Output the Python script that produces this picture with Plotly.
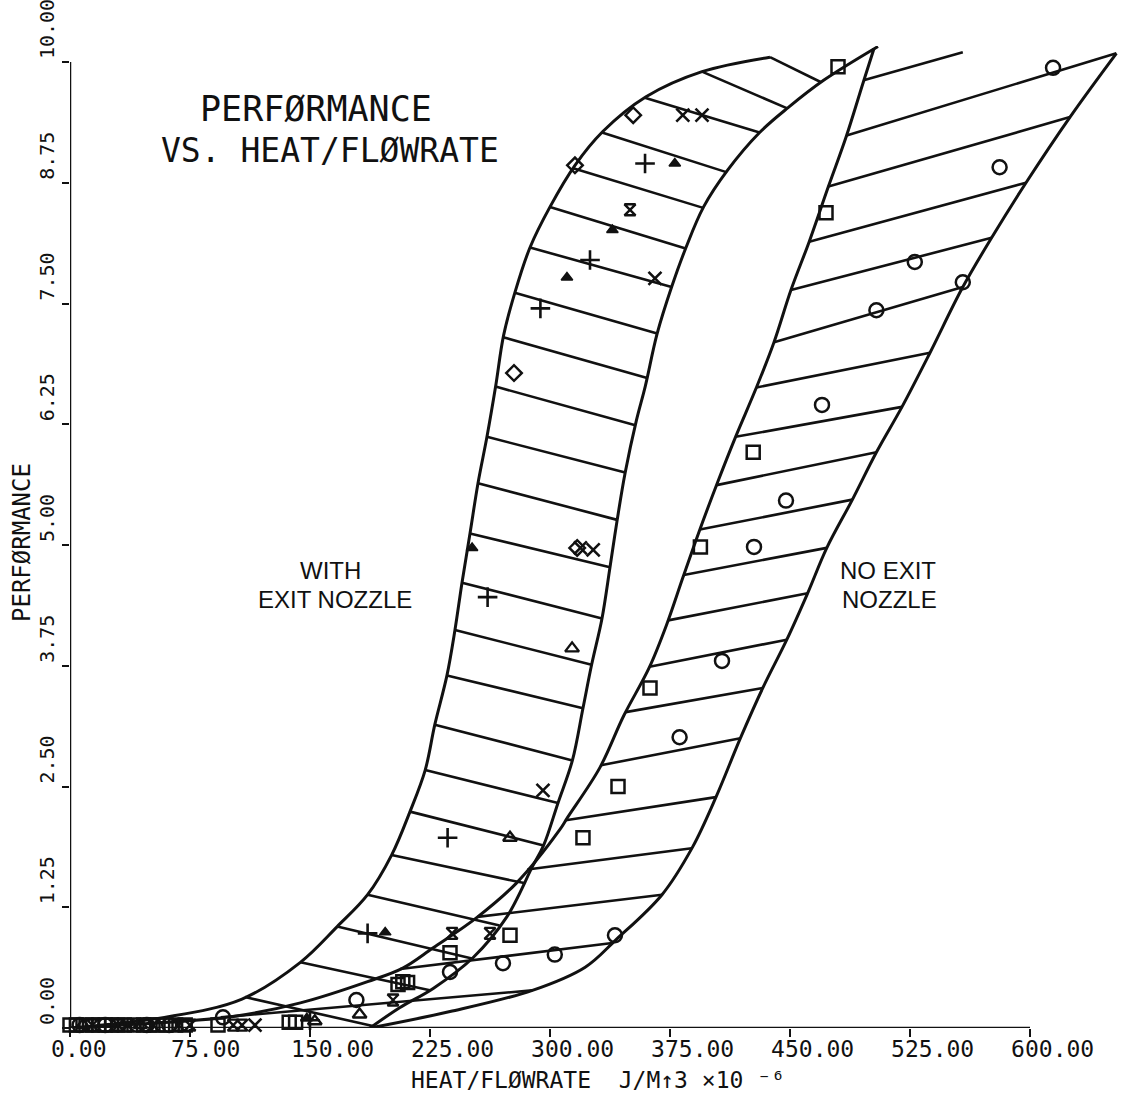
import numpy as np
import plotly.graph_objects as go

# ---------------- data ----------------
# Band "WITH EXIT NOZZLE": left and right boundary curves
L1_x = [0, 59, 107.5, 144, 167, 186, 201, 212.5, 222, 228, 235.6, 240.6, 245, 250, 255, 260.6,
        266, 271, 278, 287.5, 300, 315.6, 333, 360, 395, 437.5]
L1_y = [0, 0.11, 0.30, 0.68, 1.05, 1.38, 1.79, 2.24, 2.67, 3.14, 3.65, 4.12, 4.61, 5.12, 5.64, 6.12,
        6.64, 7.17, 7.61, 8.08, 8.50, 8.93, 9.28, 9.64, 9.90, 10.05]
R1_x = [187.5, 206, 227, 252, 273, 289, 296, 305, 314, 320.6, 326, 332.5, 337.5, 342, 347, 354, 359.5,
        367, 376, 385, 396, 411, 431, 449, 471, 505]
R1_y = [0.0, 0.21, 0.41, 0.73, 1.15, 1.67, 1.89, 2.33, 2.77, 3.31, 3.76, 4.24, 4.77, 5.26, 5.75, 6.29, 6.64,
        7.19, 7.67, 8.08, 8.50, 8.88, 9.27, 9.53, 9.81, 10.16]
# Band "NO EXIT NOZZLE": left and right boundary curves
L2_x = [0, 32, 102, 144, 186, 208, 227, 254, 279, 306, 311, 331, 346, 362, 373, 383, 393, 405,
        416, 429, 440, 450.6, 462, 474, 485, 495.6, 502.5]
L2_y = [0, 0.03, 0.12, 0.26, 0.48, 0.62, 0.83, 1.14, 1.50, 2.05, 2.18, 2.69, 3.23, 3.73, 4.18, 4.66, 5.13, 5.66,
        6.12, 6.63, 7.10, 7.64, 8.14, 8.71, 9.22, 9.78, 10.14]
R2_x = [187.5, 237.5, 289, 322, 341, 370, 389, 404, 419, 433, 448, 461, 473, 489, 504, 520, 537.5,
        558, 576, 597.5, 625, 654]
R2_y = [0.0, 0.17, 0.39, 0.63, 0.91, 1.38, 1.87, 2.40, 3.00, 3.52, 4.02, 4.50, 4.97, 5.47, 5.96, 6.43, 6.99,
        7.67, 8.18, 8.75, 9.43, 10.09]

# Hatch lines: level where each line meets the left and the right boundary
hatch1_left_y = [10.05, 9.90, 9.63, 9.27, 8.90, 8.50, 8.08, 7.61, 7.15, 6.64, 6.12, 5.64, 5.12, 4.61,
                 4.12, 3.65, 3.14, 2.67, 2.24, 1.79, 1.38, 1.05, 0.68, 0.32]
hatch1_right_y = [9.79, 9.52, 9.27, 8.86, 8.49, 8.07, 7.67, 7.19, 6.73, 6.24, 5.75, 5.26, 4.77, 4.24,
                  3.76, 3.31, 2.77, 2.33, 1.89, 1.50, 1.06, 0.72, 0.39, 0.02]
hatch2_left_y = [9.24, 8.71, 8.14, 7.64, 7.10, 6.63, 6.12, 5.62, 5.16, 4.69, 4.22, 3.74, 3.27, 2.72,
                 2.15, 1.64, 1.15, 0.61, 0.11]
hatch2_right_y = [10.09, 9.43, 8.75, 8.18, 7.67, 6.99, 6.43, 5.96, 5.47, 4.97, 4.50, 4.02, 3.52, 3.00,
                  2.39, 1.86, 1.38, 0.88, 0.39]
# top hatch of the right band, cut off at the top of the drawing
hatch2_top_x = [496.0, 558.0]
hatch2_top_y = [9.81, 10.10]

# Measured points, one list pair per plotting symbol
plus_x = [359.4, 325, 294, 261, 236, 186, 150]
plus_y = [8.95, 7.95, 7.45, 4.46, 1.97, 0.98, 0.08]
arrow_x = [378, 339, 310.6, 251.3, 197, 148]
arrow_y = [8.95, 8.26, 7.77, 4.97, 0.99, 0.10]
xmark_x = [383, 395, 365.6, 295.6, 319, 327, 36, 52, 115.6]
xmark_y = [9.45, 9.45, 7.76, 2.46, 4.97, 4.95, 0.03, 0.03, 0.03]
hour_x = [350, 238.8, 262.5, 201.9, 14, 30, 68, 75, 107.5, 102]
hour_y = [8.47, 0.98, 0.98, 0.29, 0.03, 0.03, 0.03, 0.03, 0.03, 0.03]
diam_x = [352, 315.6, 277.5, 317]
diam_y = [9.45, 8.93, 6.78, 4.97]
tri_x = [313.8, 275, 181, 153, 8, 44]
tri_y = [3.93, 1.97, 0.14, 0.07, 0.03, 0.03]
square_x = [480, 472.5, 427, 394, 362.5, 342.5, 320.6, 275, 237.5, 208, 205, 211, 0, 4, 10, 14, 18, 22,
            26, 30, 34, 40, 46, 50, 55, 60, 66, 72, 92.5, 137, 141]
square_y = [9.95, 8.44, 5.96, 4.98, 3.52, 2.50, 1.97, 0.96, 0.78, 0.48, 0.45, 0.47, 0.03, 0.03, 0.03,
            0.03, 0.03, 0.03, 0.03, 0.03, 0.03, 0.03, 0.03, 0.03, 0.03, 0.03, 0.03, 0.03, 0.03, 0.06, 0.06]
circle_x = [614.4, 581, 528, 504, 558, 470, 447.5, 427.5, 407.5, 381, 340.6, 303, 270.6, 237.5, 179,
            95.6, 6, 22, 48, 62]
circle_y = [9.94, 8.91, 7.93, 7.43, 7.72, 6.45, 5.46, 4.98, 3.80, 3.01, 0.96, 0.76, 0.67, 0.58, 0.29,
            0.11, 0.03, 0.03, 0.03, 0.03]

x_ticks = [0, 75, 150, 225, 300, 375, 450, 525, 600]
x_tick_text = ["0.00", "75.00", "150.00", "225.00", "300.00", "375.00", "450.00", "525.00", "600.00"]
y_ticks = [0, 1.25, 2.5, 3.75, 5, 6.25, 7.5, 8.75, 10]
y_tick_text = ["0.00", "1.25", "2.50", "3.75", "5.00", "6.25", "7.50", "8.75", "10.00"]

# ---------------- figure ----------------
W, H = 1123, 1099
ML, MR, MT, MB = 70, 3, 46, 71
PW, PH = W - ML - MR, H - MT - MB
XMAX = PW / 1.6
YMAX = PH / 96.6

MONO = "DejaVu Sans Mono"
SANS = "Liberation Sans"
INK = "#111111"


def hatch(lx, ly, rx, ry, left_levels, right_levels):
    xs, ys = [], []
    for a, b in zip(left_levels, right_levels):
        xs += [float(np.interp(a, ly, lx)), float(np.interp(b, ry, rx)), None]
        ys += [a, b, None]
    return xs, ys


fig = go.Figure()

h1x, h1y = hatch(L1_x, L1_y, R1_x, R1_y, hatch1_left_y, hatch1_right_y)
h2x, h2y = hatch(L2_x, L2_y, R2_x, R2_y, hatch2_left_y, hatch2_right_y)
h2x += hatch2_top_x + [None]
h2y += hatch2_top_y + [None]

for hx, hy in [(h1x, h1y), (h2x, h2y)]:
    fig.add_trace(go.Scatter(x=hx, y=hy, mode="lines", line=dict(color=INK, width=2.6),
                             hoverinfo="skip", showlegend=False))

for cx, cy in [(L1_x, L1_y), (R1_x, R1_y), (L2_x, L2_y), (R2_x, R2_y)]:
    fig.add_trace(go.Scatter(x=cx, y=cy, mode="lines",
                             line=dict(color=INK, width=3, shape="spline", smoothing=1.0),
                             hoverinfo="skip", showlegend=False))

markers = [
    (plus_x, plus_y, "cross-thin-open", 14, 2.6),
    (arrow_x, arrow_y, "triangle-up", 10, 1.5),
    (xmark_x, xmark_y, "x-thin-open", 13, 2.6),
    (hour_x, hour_y, "hourglass-open", 11, 2.4),
    (diam_x, diam_y, "diamond-open", 12, 2.4),
    (tri_x, tri_y, "triangle-up-open", 12, 2.4),
    (square_x, square_y, "square-open", 13, 2.5),
    (circle_x, circle_y, "circle-open", 14, 2.5),
]
for mx, my, sym, size, lw in markers:
    fig.add_trace(go.Scatter(x=mx, y=my, mode="markers", cliponaxis=False,
                             marker=dict(symbol=sym, size=size, color=INK,
                                         line=dict(color=INK, width=lw)),
                             showlegend=False))

# axis lines (only up to 600 / 10)
fig.add_shape(type="line", xref="x", yref="y", x0=-4, y0=0, x1=600, y1=0,
              line=dict(color=INK, width=2.5), layer="above")
fig.add_shape(type="line", xref="x", yref="y", x0=0, y0=0, x1=0, y1=10,
              line=dict(color=INK, width=2.5), layer="above")


def pxx(xp):
    return (xp - ML) / PW


def pyy(yp):
    return (H - MB - yp) / PH


def note(text, xp, yp, size, family=MONO, angle=0):
    fig.add_annotation(text=text, x=pxx(xp), y=pyy(yp), xref="paper", yref="paper",
                       showarrow=False, xanchor="center", yanchor="middle", textangle=angle,
                       font=dict(family=family, size=size, color=INK))


note("PERFØRMANCE", 316, 109, 35)
note("VS. HEAT/FLØWRATE", 330, 151, 33)
note("WITH", 330, 570, 24, SANS)
note("EXIT NOZZLE", 335, 599, 24, SANS)
note("NO EXIT", 888, 570, 24, SANS)
note("NOZZLE", 889, 599, 24, SANS)
note("HEAT/FLØWRATE  J/M↑3 ×10 ⁻⁶", 598, 1080, 23)
note("PERFØRMANCE", 22, 543, 24, angle=-90)

fig.update_layout(
    width=W, height=H,
    margin=dict(l=ML, r=MR, t=MT, b=MB, pad=0),
    paper_bgcolor="white", plot_bgcolor="white",
    showlegend=False,
    xaxis=dict(range=[0, XMAX], tickvals=x_ticks, ticktext=x_tick_text,
               ticks="outside", ticklen=8, tickwidth=2.2, tickcolor=INK,
               showline=False, showgrid=False, zeroline=False, automargin=False,
               ticklabelposition="outside right", ticklabelshift=-20,
               ticklabeloverflow="allow",
               tickfont=dict(family=MONO, size=23, color=INK)),
    yaxis=dict(range=[0, YMAX], tickvals=y_ticks,
               ticktext=[t + "\u00a0" * (5 - len(t)) for t in y_tick_text],
               ticks="outside", ticklen=7, tickwidth=2.2, tickcolor=INK, tickangle=-90,
               showline=False, showgrid=False, zeroline=False, automargin=False,
               ticklabelshift=-30, ticklabeloverflow="allow",
               tickfont=dict(family=MONO, size=20, color=INK)),
)

fig.write_html("out.html")
